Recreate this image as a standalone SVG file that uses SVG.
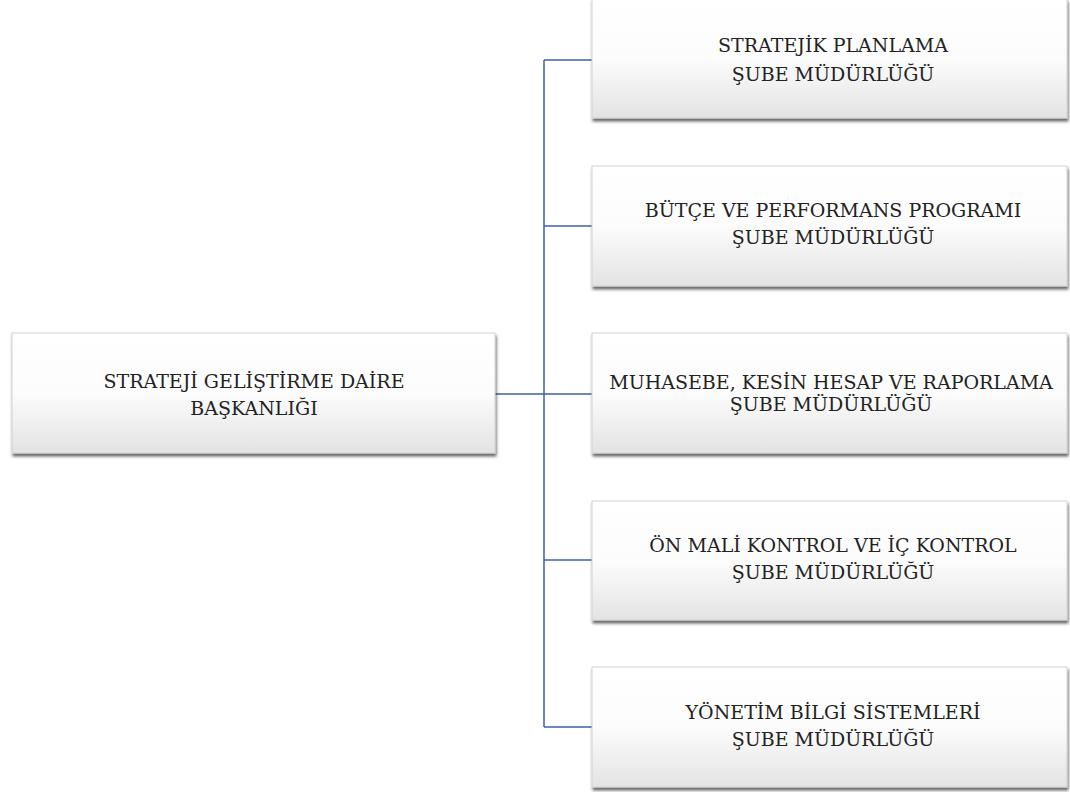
<svg xmlns="http://www.w3.org/2000/svg" width="1070" height="792" viewBox="0 0 1070 792">
<style>
.box{fill:url(#g);stroke:#d2d2d2;stroke-width:1;filter:url(#sh)}
.t{font-family:"DejaVu Serif","Liberation Serif",serif;font-size:19px;fill:#222222;text-anchor:middle}
.c{fill:none;stroke:#3f62a6;stroke-width:1.5}
</style>
<defs>
<linearGradient id="g" x1="0" y1="0" x2="0" y2="1">
<stop offset="0" stop-color="#ffffff"/>
<stop offset="0.5" stop-color="#fcfcfc"/>
<stop offset="1" stop-color="#e3e3e3"/>
</linearGradient>
<filter id="sh" x="-5%" y="-10%" width="115%" height="130%">
<feGaussianBlur in="SourceAlpha" stdDeviation="1.8"/>
<feOffset dx="1" dy="3" result="b"/>
<feComponentTransfer><feFuncA type="linear" slope="0.6"/></feComponentTransfer>
<feMerge><feMergeNode/><feMergeNode in="SourceGraphic"/></feMerge>
</filter>
</defs>
<rect width="1070" height="792" fill="#ffffff"/>
<g id="connectors">
<path class="c" d="M495 394 H544 M544 60 V727 M544 60 H592 M544 226 H592 M544 394 H592 M544 560 H592 M544 727 H592"/>
</g>
<g id="n0">
<rect class="box" x="12" y="333" width="483" height="120"/>
<text class="t" x="254" y="388">STRATEJİ GELİŞTİRME DAİRE</text>
<text class="t" x="254" y="415">BAŞKANLIĞI</text>
</g>
<g id="n1">
<rect class="box" x="592" y="-1" width="475" height="119"/>
<text class="t" x="833" y="52">STRATEJİK PLANLAMA</text>
<text class="t" x="833" y="81">ŞUBE MÜDÜRLÜĞÜ</text>
</g>
<g id="n2">
<rect class="box" x="592" y="166" width="475" height="120"/>
<text class="t" x="833" y="217">BÜTÇE VE PERFORMANS PROGRAMI</text>
<text class="t" x="833" y="244">ŞUBE MÜDÜRLÜĞÜ</text>
</g>
<g id="n3">
<rect class="box" x="592" y="333" width="475" height="120"/>
<text class="t" x="831" y="389">MUHASEBE, KESİN HESAP VE RAPORLAMA</text>
<text class="t" x="831" y="411">ŞUBE MÜDÜRLÜĞÜ</text>
</g>
<g id="n4">
<rect class="box" x="592" y="501" width="475" height="119"/>
<text class="t" x="833" y="552">ÖN MALİ KONTROL VE İÇ KONTROL</text>
<text class="t" x="833" y="579">ŞUBE MÜDÜRLÜĞÜ</text>
</g>
<g id="n5">
<rect class="box" x="592" y="667" width="475" height="120"/>
<text class="t" x="833" y="719">YÖNETİM BİLGİ SİSTEMLERİ</text>
<text class="t" x="833" y="746">ŞUBE MÜDÜRLÜĞÜ</text>
</g>
</svg>
